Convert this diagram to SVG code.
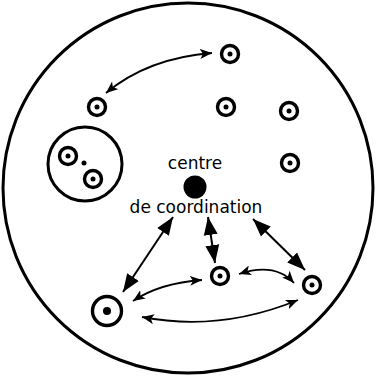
<svg xmlns="http://www.w3.org/2000/svg" width="376" height="376" viewBox="0 0 376 376">
<style>
.o{fill:none;stroke:#000;stroke-width:3}
.s{fill:#fff;stroke:#000;stroke-width:3.4}
.d{fill:#000}
.c{fill:none;stroke:#000;stroke-width:1.8}
.b{fill:none;stroke:#000;stroke-width:2}
text{font-family:"DejaVu Sans",sans-serif;font-size:17px;fill:#000;text-anchor:middle}
</style>
<defs>
<marker id="t" viewBox="0 0 12 10" refX="12" refY="5" markerWidth="12" markerHeight="10" markerUnits="userSpaceOnUse" orient="auto-start-reverse">
<path d="M0,0 L12,5 L0,10 L3,5 Z" fill="#000"/>
</marker>
<marker id="h" viewBox="0 0 18 14" refX="18" refY="7" markerWidth="18" markerHeight="15" markerUnits="userSpaceOnUse" orient="auto-start-reverse">
<path d="M0,0 L18,7 L0,14 Z" fill="#000"/>
</marker>
</defs>
<g id="boundary"><circle class="o" cx="188" cy="188" r="185"/></g>
<g id="n1"><circle class="s" cx="230" cy="54" r="8.5"/><circle class="d" cx="230" cy="54" r="2.5"/></g>
<g id="n2"><circle class="s" cx="97" cy="107" r="8.5"/><circle class="d" cx="97" cy="107" r="2.5"/></g>
<g id="n3"><circle class="s" cx="226" cy="107" r="8.5"/><circle class="d" cx="226" cy="107" r="2.5"/></g>
<g id="n4"><circle class="s" cx="289" cy="111" r="8.5"/><circle class="d" cx="289" cy="111" r="2.5"/></g>
<g id="n5"><circle class="s" cx="290" cy="163" r="8.5"/><circle class="d" cx="290" cy="163" r="2.5"/></g>
<g id="group">
<circle class="o" cx="85" cy="164" r="37"/>
<circle class="s" cx="68" cy="156" r="8.5"/><circle class="d" cx="68" cy="156" r="2.5"/>
<circle class="s" cx="93" cy="179" r="8.5"/><circle class="d" cx="93" cy="179" r="2.5"/>
<circle class="d" cx="84" cy="163" r="2.5"/>
</g>
<g id="centre">
<circle class="d" cx="195" cy="187" r="11.5"/>
<text x="195" y="169">centre</text>
<text x="196" y="213">de coordination</text>
</g>
<g id="n6"><circle class="s" cx="220" cy="276" r="8.5"/><circle class="d" cx="220" cy="276" r="2.5"/></g>
<g id="n7"><circle class="s" cx="312" cy="285" r="8.5"/><circle class="d" cx="312" cy="285" r="2.5"/></g>
<g id="n8"><circle class="s" cx="107" cy="311" r="14.5"/><circle class="d" cx="107" cy="311" r="4"/></g>
<g id="connectors">
<path class="c" d="M106,93 Q148,58 212,53" marker-start="url(#t)" marker-end="url(#t)"/>
<path class="b" d="M173,217 L123,292" marker-start="url(#h)" marker-end="url(#h)"/>
<path class="b" d="M208,217 L215,263" marker-start="url(#h)" marker-end="url(#h)"/>
<path class="b" d="M253,219 L305,270" marker-start="url(#h)" marker-end="url(#h)"/>
<path class="c" d="M133,301 Q160,283 202,280" marker-start="url(#t)" marker-end="url(#t)"/>
<path class="c" d="M239,274 Q275,262 294,283" marker-start="url(#t)" marker-end="url(#t)"/>
<path class="c" d="M142,317 Q220,332 298,300" marker-start="url(#t)" marker-end="url(#t)"/>
</g>
</svg>
